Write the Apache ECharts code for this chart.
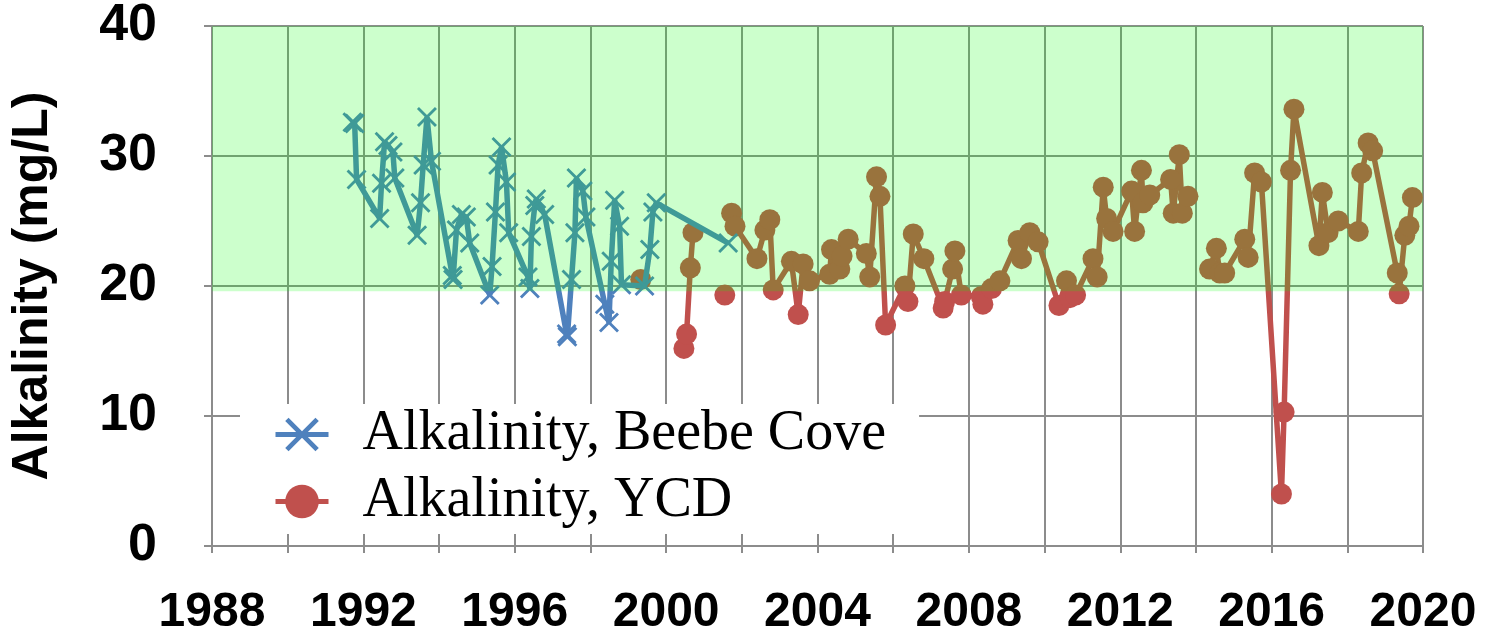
<!DOCTYPE html>
<html>
<head>
<meta charset="utf-8">
<script src="https://cdn.jsdelivr.net/npm/echarts@6/dist/echarts.min.js"></script>
<style>
html,body{margin:0;padding:0;background:#fff;}
#chart{width:1497px;height:637px;}
</style>
</head>
<body>
<div id="chart"></div>
<script>
// ---- data ----
const beebeYears = [1991.71,1991.77,1991.82,1992.43,1992.48,1992.56,1992.65,1992.78,1992.83,
  1993.42,1993.51,1993.58,1993.68,1993.80,1994.35,1994.37,1994.46,1994.59,1994.72,1994.81,
  1995.34,1995.40,1995.49,1995.56,1995.65,1995.78,1995.84,1996.35,1996.40,1996.44,1996.53,
  1996.57,1996.79,1997.37,1997.39,1997.50,1997.59,1997.63,1997.80,1997.88,1998.38,1998.49,
  1998.55,1998.64,1998.77,1998.82,1999.43,1999.57,1999.65,1999.74,2001.64];
const beebeValues = [32.6,32.5,28.2,25.2,27.9,31.1,30.8,30.3,28.3,
  23.9,26.4,29.3,33.0,29.6,20.8,20.5,24.3,25.5,25.3,23.3,
  19.3,21.5,25.7,29.3,30.7,28.0,24.1,20.7,19.8,23.8,26.2,
  26.7,25.5,16.3,16.1,20.5,24.1,28.3,27.3,25.3,18.6,17.2,
  21.9,26.6,24.6,20.1,20.0,22.8,25.7,26.4,23.3];

// null = break in the line
const ycdYears = [1999.33,null,2000.47,2000.54,2000.64,2000.71,null,2001.55,null,
  2001.73,2001.82,2002.40,2002.61,2002.74,2002.83,2003.31,2003.49,2003.62,2003.79,
  2004.32,2004.37,2004.59,2004.65,2004.81,2005.29,2005.38,2005.56,2005.65,2005.80,
  2006.31,2006.39,2006.53,2006.81,2007.32,2007.36,2007.57,2007.63,2007.80,
  2008.33,2008.37,2008.60,2008.82,2009.30,2009.39,2009.61,2009.83,
  2010.38,2010.58,2010.67,2010.82,2011.28,2011.39,2011.55,2011.64,2011.81,
  2012.30,2012.38,2012.56,2012.60,2012.78,2013.33,2013.40,2013.56,2013.64,2013.79,null,
  2014.36,2014.54,2014.63,2014.76,2015.29,2015.38,2015.55,2015.73,
  2016.26,2016.33,2016.50,2016.59,2017.25,2017.34,2017.49,2017.76,
  2018.29,2018.38,2018.55,2018.67,2019.32,2019.37,2019.52,2019.63,2019.72];
const ycdValues = [20.5,null,15.2,16.3,21.4,24.1,null,19.3,null,
  25.6,24.6,22.1,24.3,25.1,19.7,21.9,17.8,21.7,20.4,
  20.9,22.8,21.3,22.3,23.6,22.5,20.7,28.4,26.9,17.0,
  20.0,18.8,24.0,22.1,18.3,18.8,21.3,22.7,19.3,
  19.2,18.6,19.8,20.4,23.5,22.1,24.1,23.4,
  18.5,20.4,19.1,19.3,22.1,20.7,27.6,25.2,24.2,
  27.3,24.2,28.9,26.4,27.0,28.2,25.6,30.1,25.6,26.9,null,
  21.3,22.9,21.0,21.0,23.6,22.2,28.7,28.0,
  4.0,10.3,28.9,33.6,23.1,27.2,24.1,25.0,
  24.2,28.7,31.0,30.4,21.0,19.4,23.9,24.6,26.8];

const xTickLabels = ['1988','1992','1996','2000','2004','2008','2012','2016','2020'];
const yTickLabels = ['0','10','20','30','40'];
const targetBand = [19.6, 40];   // shaded acceptable range (mg/L)
const seriesNames = ['Alkalinity, Beebe Cove','Alkalinity, YCD'];
const yAxisTitle = 'Alkalinity (mg/L)';

// ---- chart ----
const toPairs = (xs, ys) => xs.map((x, i) => (x == null || ys[i] == null) ? ['-','-'] : [x, ys[i]]);
const gray = '#8c8c8c';
const labelFont = {fontFamily:'Liberation Sans, Arial, sans-serif', fontWeight:'bold', fontSize:48, color:'#000'};
const crossPath = 'path://M0,1L1,0L5,4L9,0L10,1L6,5L10,9L9,10L5,6L1,10L0,9L4,5Z';

const chart = echarts.init(document.getElementById('chart'), null, {renderer:'canvas'});
chart.setOption({
  animation:false,
  backgroundColor:'#fff',
  grid:{left:212, right:74, top:26, bottom:90, containLabel:false},
  legend:{
    data:seriesNames,
    orient:'vertical',
    left:240, top:404,
    backgroundColor:'#fff',
    padding:[2,33,4,33],
    itemWidth:53, itemHeight:42, itemGap:10,
    lineStyle:{width:5},
    textStyle:{fontFamily:'Liberation Serif, Times New Roman, serif', fontSize:56, color:'#000', lineHeight:57, padding:[0,0,0,29]}
  },
  xAxis:{
    type:'value', min:1988, max:2020, interval:2,
    axisLine:{show:true, onZero:false, lineStyle:{color:gray, width:2}},
    axisTick:{show:true, length:7, lineStyle:{color:gray, width:2}},
    splitLine:{show:true, lineStyle:{color:gray, width:2}},
    axisLabel:Object.assign({margin:43, formatter:v => xTickLabels.includes(String(v)) ? String(v) : ''}, labelFont)
  },
  yAxis:{
    type:'value', min:0, max:40, interval:10,
    name:yAxisTitle, nameLocation:'middle', nameGap:154,
    nameTextStyle:{fontFamily:'Liberation Sans, Arial, sans-serif', fontWeight:'bold', fontSize:50, color:'#000'},
    axisLine:{show:true, lineStyle:{color:gray, width:2}},
    axisTick:{show:true, length:8, lineStyle:{color:gray, width:2}},
    splitLine:{show:true, lineStyle:{color:gray, width:2}},
    axisLabel:Object.assign({margin:55, formatter:v => yTickLabels.includes(String(v)) ? String(v) : ''}, labelFont, {fontSize:52})
  },
  series:[
    {
      name:seriesNames[1], type:'line', z:2,
      data:toPairs(ycdYears, ycdValues),
      connectNulls:false,
      symbol:'circle', symbolSize:21, showSymbol:true,
      lineStyle:{color:'#C0504D', width:5.5},
      itemStyle:{color:'#C0504D'}
    },
    {
      name:seriesNames[0], type:'line', z:3,
      data:toPairs(beebeYears, beebeValues),
      symbol:crossPath, symbolSize:20, showSymbol:true,
      lineStyle:{color:'#4F81BD', width:5.5},
      itemStyle:{color:'#4F81BD'}
    },
    {
      type:'custom', z:10, silent:true,
      data:[[1988, targetBand[0], 2020, targetBand[1]]],
      encode:{x:[0,2], y:[1,3]},
      renderItem:function(params, api){
        const p1 = api.coord([api.value(0), api.value(3)]);
        const p2 = api.coord([api.value(2), api.value(1)]);
        return {type:'rect', shape:{x:p1[0], y:p1[1], width:p2[0]-p1[0], height:p2[1]-p1[1]},
                style:{fill:'rgba(0,255,0,0.2)'}};
      }
    }
  ]
});
</script>
</body>
</html>
